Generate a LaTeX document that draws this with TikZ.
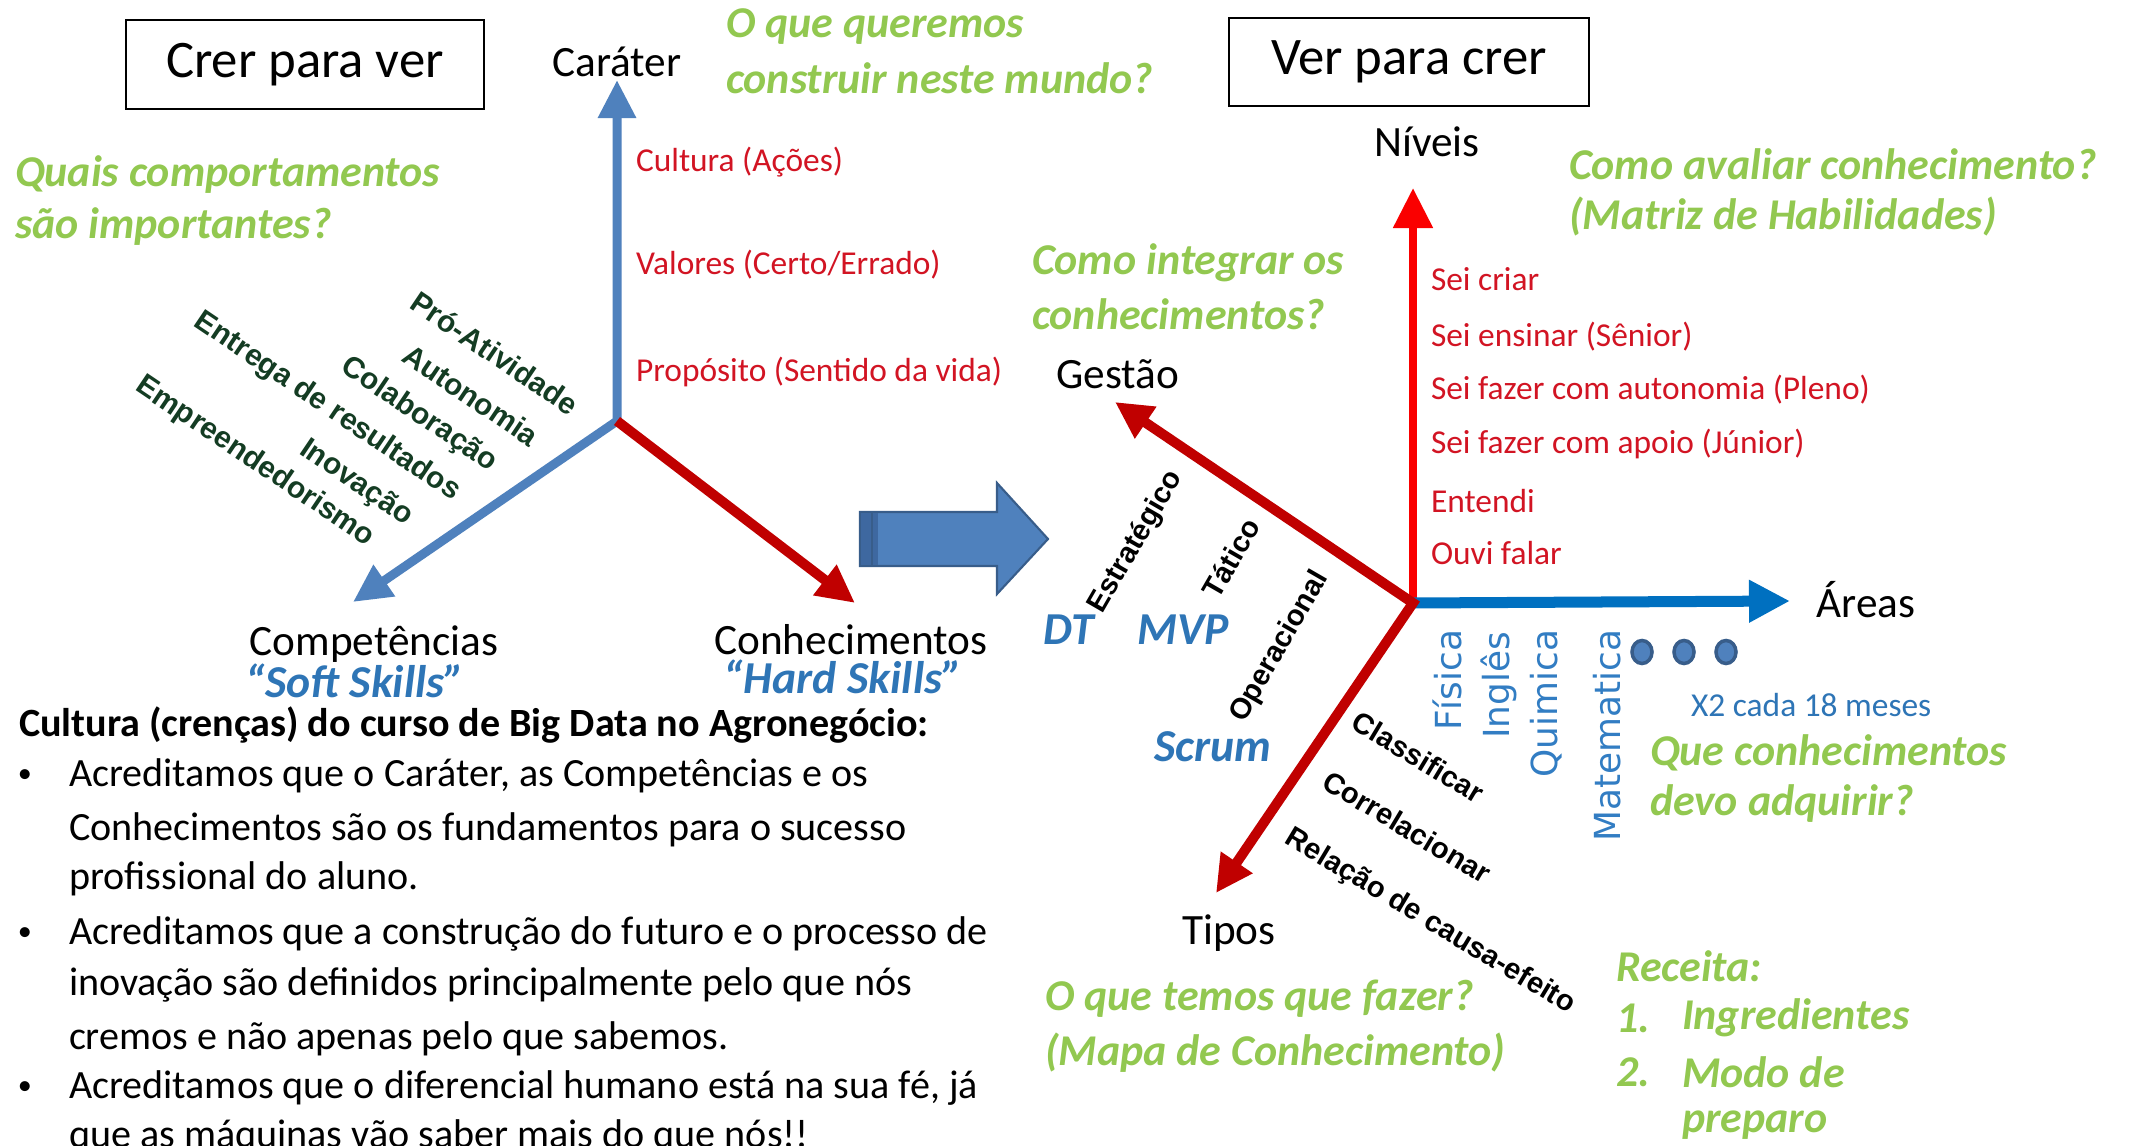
\documentclass[tikz,border=0pt]{standalone}
\usepackage{fontspec}
\setmainfont{Carlito}
\newfontfamily\arialf{Liberation Sans}
\newfontfamily\dejavu{DejaVu Sans}
\usetikzlibrary{arrows.meta}
\definecolor{bluA}{RGB}{79,129,189}
\definecolor{bluAd}{RGB}{56,93,138}
\definecolor{bluAs}{RGB}{62,104,160}
\definecolor{bluB}{RGB}{0,112,192}
\definecolor{dred}{RGB}{192,0,0}
\definecolor{bred}{RGB}{250,0,0}
\definecolor{redtxt}{RGB}{210,20,35}
\definecolor{greenq}{RGB}{146,200,80}
\definecolor{dgreen}{RGB}{20,60,35}
\definecolor{skillblue}{RGB}{46,117,182}
\definecolor{areablue}{RGB}{50,125,195}
\tikzset{
  every node/.style={inner sep=0pt, outer sep=0pt},
  titlebox/.style={draw, line width=0.7pt, font=\fontsize{15}{18}\selectfont},
  lab/.style={font=\fontsize{12.3}{14}\selectfont},
  redl/.style={anchor=west, text=redtxt, font=\fontsize{9.5}{11}\selectfont},
  gq/.style={anchor=west, text=greenq, font=\bfseries\itshape\fontsize{12.5}{15}\selectfont},
  skill/.style={text=skillblue, font=\bfseries\itshape\fontsize{13}{15}\selectfont},
  softl/.style={text=dgreen, font=\arialf\bfseries\fontsize{8.5}{10}\selectfont, rotate=-34},
  blkrot/.style={text=black, font=\arialf\bfseries\fontsize{8.3}{10}\selectfont},
  area/.style={text=areablue, font=\dejavu\fontsize{10.2}{12}\selectfont, rotate=90, anchor=east},
  body/.style={anchor=west, font=\fontsize{11.4}{13}\selectfont},
  bul/.style={font=\fontsize{8}{9}\selectfont},
  axis/.style={line join=miter},
}
\begin{document}
\begin{tikzpicture}[x=0.01cm, y=-0.01cm]
\path[use as bounding box] (0,0) rectangle (2130,1146);
\clip (0,0) rectangle (2130,1146);
\fill[white] (0,0) rectangle (2130,1146);

% title boxes
\node[titlebox, minimum width=3.58cm, minimum height=0.89cm] (crer) at (305,64.5) {Crer para ver};
\node[titlebox, minimum width=3.60cm, minimum height=0.88cm] (ver) at (1409,62) {Ver para crer};

% axis coordinates
\coordinate (O1) at (617,421);
\coordinate (tipC) at (617,80);
\coordinate (tipS) at (353,602);
\coordinate (tipH) at (855,603);
\coordinate (O2) at (1413,603);
\coordinate (tipN) at (1413,188);
\coordinate (tipA) at (1790,601);
\coordinate (tipG) at (1115,402);
\coordinate (tipT) at (1216,893);

% left axes
\draw[axis, bluA, line width=0.09cm, {Triangle[length=0.38cm, width=0.36cm]}-{Triangle[length=0.38cm, width=0.36cm]}] (tipC) -- (O1) -- (tipS);
\draw[axis, dred, line width=0.10cm, -{Triangle[length=0.38cm, width=0.36cm]}] (O1) -- (tipH);

% right axes
\draw[axis, bred, line width=0.08cm, -{Triangle[length=0.40cm, width=0.38cm]}] (O2) -- (tipN);
\draw[axis, bluB, line width=0.11cm, -{Triangle[length=0.41cm, width=0.40cm]}] (O2) -- (tipA);
\draw[axis, dred, line width=0.10cm, {Triangle[length=0.37cm, width=0.36cm]}-{Triangle[length=0.37cm, width=0.36cm]}] (tipG) -- (O2) -- (tipT);

% block arrow
\filldraw[fill=bluA, draw=bluAd, line width=0.6pt, line join=miter]
  (860,512) -- (997,512) -- (997,483) -- (1048,539) -- (997,594) -- (997,566) -- (860,566) -- cycle;
\fill[bluAs] (861,513) rectangle (878,565);
\draw[bluAd, line width=0.5pt] (872,513) -- (872,565);

% axis labels
\node[lab] (carater) at (617,62) {Caráter};
\node[lab] (comp) at (374,644) {Competências};
\node[lab] (conh) at (851,640) {Conhecimentos};
\node[lab] (niveis) at (1427,142) {Níveis};
\node[lab] (gestao) at (1118,374) {Gestão};
\node[lab] (tipos) at (1229,933) {Tipos};
\node[lab] (areas) at (1866,600) {Áreas};

\node[skill] (soft) at (355,681) {“Soft Skills”};
\node[skill] (hard) at (843,677) {“Hard Skills”};
\node[skill] (dt) at (1069,630) {DT};
\node[skill] (mvp) at (1183,630) {MVP};
\node[skill] (scrum) at (1213,747) {Scrum};

% red labels left
\node[redl] (cult) at (636,162) {Cultura (Ações)};
\node[redl] (valo) at (636,265) {Valores (Certo/Errado)};
\node[redl] (prop) at (636,372) {Propósito (Sentido da vida)};

% red labels right
\node[redl] (n1) at (1431,279) {Sei criar};
\node[redl] (n2) at (1431,337) {Sei ensinar (Sênior)};
\node[redl] (n3) at (1431,390) {Sei fazer com autonomia (Pleno)};
\node[redl] (n4) at (1431,444) {Sei fazer com apoio (Júnior)};
\node[redl] (n5) at (1431,501) {Entendi};
\node[redl] (n6) at (1431,553) {Ouvi falar};

% soft skills (rotated)
\node[softl] (s1) at (495,353) {Pró-Atividade};
\node[softl] (s2) at (471,395) {Autonomia};
\node[softl] (s3) at (419,415) {Colaboração};
\node[softl] (s4) at (327,407) {Entrega de resultados};
\node[softl] (s5) at (356,483) {Inovação};
\node[softl] (s6) at (255,462) {Empreendedorismo};

% management levels
\node[blkrot, rotate=60] (g1) at (1136,542) {Estratégico};
\node[blkrot, rotate=60] (g2) at (1231,558) {Tático};
\node[blkrot, rotate=60] (g3) at (1280,647) {Operacional};

% types
\node[blkrot, rotate=-31] (t1) at (1418,757) {Classificar};
\node[blkrot, rotate=-31] (t2) at (1407,827) {Correlacionar};
\node[blkrot, rotate=-31] (t3) at (1430,922) {Relação de causa-efeito};

% areas
\node[area] (a1) at (1447,630) {Física};
\node[area] (a2) at (1499,632) {Inglês};
\node[area] (a3) at (1546,630) {Quimica};
\node[area] (a4) at (1607,630) {Matematica};
\filldraw[fill=bluA, draw=bluAd, line width=1pt] (1642,652) ellipse [x radius=0.1cm, y radius=0.115cm];
\filldraw[fill=bluA, draw=bluAd, line width=1pt] (1684,652) ellipse [x radius=0.1cm, y radius=0.115cm];
\filldraw[fill=bluA, draw=bluAd, line width=1pt] (1726,652) ellipse [x radius=0.1cm, y radius=0.115cm];
\node[anchor=west, text=skillblue, font=\fontsize{9.5}{11}\selectfont] (x2) at (1691,705) {X2 cada 18 meses};

% green questions
\node[gq] (q1a) at (726,27) {O que queremos};
\node[gq] (q1b) at (726,78) {construir neste mundo?};
\node[gq] (q2a) at (15,175) {Quais comportamentos};
\node[gq] (q2b) at (15,227) {são importantes?};
\node[gq] (q3a) at (1032,263) {Como integrar os};
\node[gq] (q3b) at (1032,314) {conhecimentos?};
\node[gq] (q4a) at (1569,164) {Como avaliar conhecimento?};
\node[gq] (q4b) at (1569,217) {(Matriz de Habilidades)};
\node[gq] (q5a) at (1650,753) {Que conhecimentos};
\node[gq] (q5b) at (1650,804) {devo adquirir?};
\node[gq] (q6a) at (1045,999) {O que temos que fazer?};
\node[gq] (q6b) at (1045,1053) {(Mapa de Conhecimento)};
\node[gq] (r0) at (1616,966) {Receita:};
\node[gq] (r1n) at (1616,1018) {1.};
\node[gq] (r1) at (1682,1018) {Ingredientes};
\node[gq] (r2n) at (1616,1072) {2.};
\node[gq] (r2) at (1682,1072) {Modo de};
\node[gq] (r3) at (1682,1125) {preparo};

% body text
\node[body, font=\bfseries\fontsize{11.4}{13}\selectfont] (btitle) at (19,725) {Cultura (crenças) do curso de Big Data no Agronegócio:};
\node[bul] (d1) at (25,776) {•};
\node[bul] (d2) at (25,934) {•};
\node[bul] (d3) at (25,1088) {•};
\node[body] (l1) at (69,776) {Acreditamos que o Caráter, as Competências e os};
\node[body] (l2) at (69,830) {Conhecimentos são os fundamentos para o sucesso};
\node[body] (l3) at (69,879) {profissional do aluno.};
\node[body] (l4) at (69,934) {Acreditamos que a construção do futuro e o processo de};
\node[body] (l5) at (69,985) {inovação são definidos principalmente pelo que nós};
\node[body] (l6) at (69,1039) {cremos e não apenas pelo que sabemos.};
\node[body] (l7) at (69,1088) {Acreditamos que o diferencial humano está na sua fé, já};
\node[body] (l8) at (69,1137) {que as máquinas vão saber mais do que nós!!};
\end{tikzpicture}
\end{document}
